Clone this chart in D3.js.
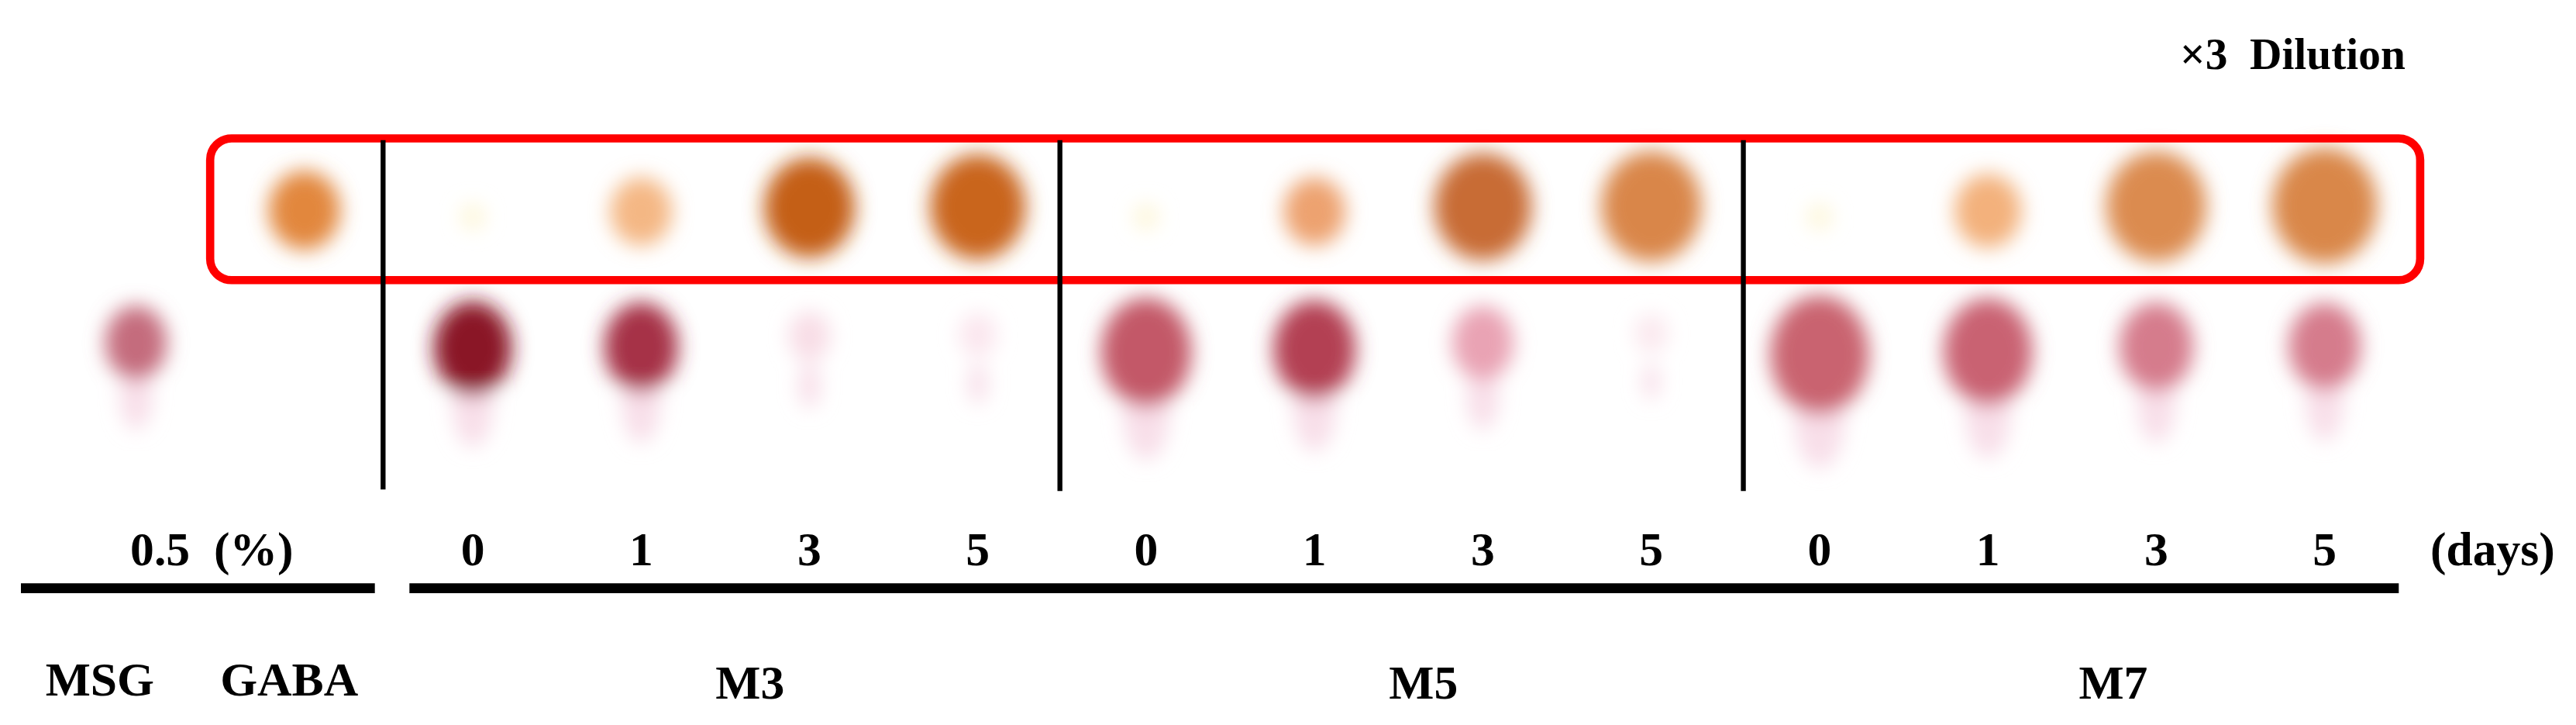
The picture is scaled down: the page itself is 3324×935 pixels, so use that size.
<!DOCTYPE html>
<html><head><meta charset="utf-8">
<script src="https://cdn.jsdelivr.net/npm/d3@7"></script>
<style>body{margin:0;background:#fff}text{font-family:"Liberation Serif",serif;font-weight:bold;fill:#000}</style>
</head><body><div id="chart"></div>
<script>
var W = 3324, H = 935;

// lanes on the plate, left to right
var lanes = ["MSG","GABA","M3-0","M3-1","M3-3","M3-5","M5-0","M5-1","M5-3","M5-5","M7-0","M7-1","M7-3","M7-5"];
var days = ["0","1","3","5","0","1","3","5","0","1","3","5"];
var groups = ["M3","M5","M7"];
// upper (GABA) spot: size and colour per lane, null = none
var topSize = [null, 0.75, 0.25, 0.65, 0.95, 1.0, 0.25, 0.65, 1.02, 1.05, 0.25, 0.7, 1.05, 1.1];
var topColor = [null,"#e2873c","#fdf6d8","#f4b784","#c45f14","#c9651e","#fdf6d8","#eda270","#c86c34","#d98648","#fdf6d8","#f3b17c","#db8b50","#d9874a"];
// lower (MSG) spot
var lowSize = [0.75, null, 0.95, 0.9, 0.5, 0.45, 1.1, 1.0, 0.75, 0.4, 1.2, 1.08, 0.9, 0.88];
var lowColor = ["#c46c7d","#fff","#8a1828","#a63246","#f8dde6","#fbe6ee","#c35868","#b33f52","#e9a3b4","#fbe8ee","#c9636f","#c96272","#d57b8c","#d57b8c"];

var svg = d3.select("#chart").append("svg")
    .attr("width", W).attr("height", H)
    .attr("viewBox", "0 0 1563 440");

svg.append("defs").html('<filter id="blur" x="-50%" y="-50%" width="200%" height="200%"><feGaussianBlur stdDeviation="6"/></filter>');

var x = d3.scalePoint().domain(lanes).range([82, 1411]);

// spots
var spots = svg.append("g").attr("filter", "url(#blur)");
lanes.forEach(function (l, i) {
    if (lowSize[i]) {
        var s = lowSize[i];
        // faint tail below
        spots.append("ellipse").attr("cx", x(l)).attr("cy", 222 + s * 24)
            .attr("rx", 13 * s).attr("ry", 28 * s).attr("fill", "#f6d6e4").attr("opacity", 0.8);
        spots.append("ellipse").attr("cx", x(l)).attr("cy", 196 + s * 16)
            .attr("rx", 25 * s).attr("ry", 30 * s).attr("fill", lowColor[i]);
    }
    if (topSize[i]) {
        var t = topSize[i];
        spots.append("ellipse").attr("cx", x(l)).attr("cy", 128 - (t - 0.7) * 8)
            .attr("rx", 29 * t).attr("ry", 32 * t).attr("fill", topColor[i]);
    }
});

// red box
svg.append("rect").attr("x", 127).attr("y", 84).attr("width", 1342).attr("height", 86)
    .attr("rx", 13).attr("fill", "none").attr("stroke", "#ff0000").attr("stroke-width", 5);

// separators
[232, 643, 1058].forEach(function (v, i) {
    svg.append("line").attr("x1", v).attr("x2", v).attr("y1", 85).attr("y2", i ? 298 : 297)
        .attr("stroke", "#000").attr("stroke-width", 3);
});

svg.append("text").attr("x", 1460).attr("y", 42).attr("text-anchor", "end")
    .attr("font-size", 27).attr("xml:space", "preserve").text("×3  Dilution");

// day labels
var dayLanes = lanes.slice(2);
svg.selectAll("text.day").data(days).enter().append("text").attr("class", "day")
    .attr("x", function (d, i) { return x(dayLanes[i]); }).attr("y", 343)
    .attr("text-anchor", "middle").attr("font-size", 29).text(function (d) { return d; });
svg.append("text").attr("x", 128).attr("y", 343).attr("text-anchor", "middle")
    .attr("font-size", 29).attr("xml:space", "preserve").text("0.5  (%)");
svg.append("text").attr("x", 1513).attr("y", 343).attr("text-anchor", "middle")
    .attr("font-size", 29).text("(days)");

// bars
svg.append("rect").attr("x", 12).attr("y", 354).attr("width", 215).attr("height", 6).attr("fill", "#000");
svg.append("rect").attr("x", 248).attr("y", 354).attr("width", 1208).attr("height", 6).attr("fill", "#000");

// bottom labels
svg.append("text").attr("x", 60).attr("y", 422).attr("text-anchor", "middle").attr("font-size", 29).text("MSG");
svg.append("text").attr("x", 175).attr("y", 422).attr("text-anchor", "middle").attr("font-size", 29).text("GABA");
groups.forEach(function (g, i) {
    var mid = (x(g + "-1") + x(g + "-3")) / 2;
    svg.append("text").attr("x", mid + (i === 2 ? 25 : 15)).attr("y", 424)
        .attr("text-anchor", "middle").attr("font-size", 29).text(g);
});
</script></body></html>
